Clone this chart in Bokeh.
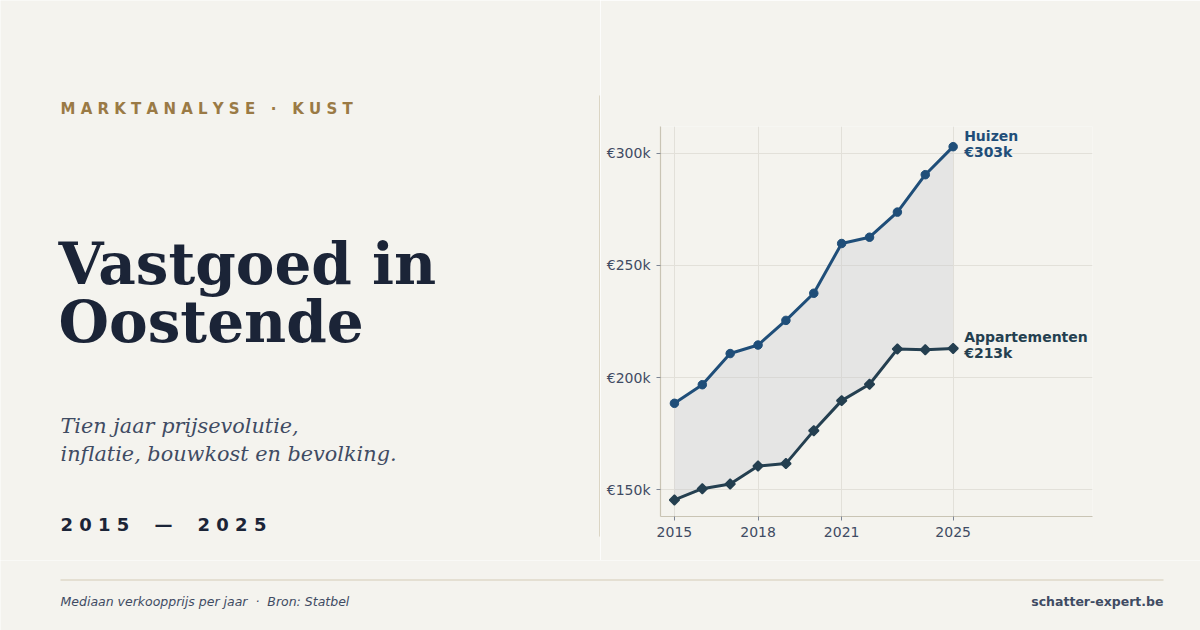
from bokeh.plotting import figure
from bokeh.layouts import column, row
from bokeh.models import Range1d, Label, FixedTicker, ColumnDataSource
from bokeh.core.properties import value
from bokeh.embed import file_html
from bokeh.resources import INLINE

# ---- data (median sale price, thousands of euro) ----
years = [2015, 2016, 2017, 2018, 2019, 2020, 2021, 2022, 2023, 2024, 2025]
huizen = [188.5, 196.8, 210.7, 214.5, 225.5, 237.6, 259.8, 262.6, 273.8, 290.5, 303.0]
appartementen = [145.4, 150.4, 152.5, 160.5, 161.6, 176.3, 189.7, 197.0, 212.7, 212.4, 213.0]
x_ticks = [2015, 2018, 2021, 2025]
y_ticks = [150, 200, 250, 300]
y_tick_labels = ["€150k", "€200k", "€250k", "€300k"]
series_names = ["Huizen", "Appartementen"]

BG = "#f4f3ee"
NAVY = "#1b2437"
SLATE = "#3f4b63"
GOLD = "#9a7a45"
BLUE = "#1f4e79"
TEAL = "#243f50"
RULE = "#d3cbb6"
NB = "\u00a0"


def blank(width, height, y_top, y_bottom):
    f = figure(width=width, height=height, output_backend="svg", toolbar_location=None,
               x_range=Range1d(0, width), y_range=Range1d(y_bottom, y_top),
               min_border=0, outline_line_color=None)
    f.axis.visible = False
    f.grid.visible = False
    f.background_fill_color = BG
    f.border_fill_color = BG
    f.frame_align = False
    return f


def put(fig, x, baseline, text, font, style, size, color, align="left"):
    # labels are positioned on their vertical centre; shift so the baseline lands where wanted
    fig.add_layout(Label(x=x, y=baseline - 0.35 * size, text=text, text_font=font,
                         text_font_style=style, text_font_size=f"{size}px", text_color=color,
                         text_baseline="alphabetic", text_align=align))


# ---- left panel: titles ----
left = blank(600, 560, 0, 560)
put(left, 60, 114, "M A R K T A N A L Y S E" + NB * 3 + "·" + NB * 3 + "K U S T",
    "DejaVu Sans", "bold", 15, GOLD)
put(left, 58, 284, "Vastgoed in", "DejaVu Serif", "bold", 58, NAVY)
put(left, 58, 342, "Oostende", "DejaVu Serif", "bold", 58, NAVY)
put(left, 60, 433, "Tien jaar prijsevolutie,", "DejaVu Serif", "italic", 20.8, SLATE)
put(left, 60, 461, "inflatie, bouwkost en bevolking.", "DejaVu Serif", "italic", 20.8, SLATE)
put(left, 60, 530, "2 0 1 5" + NB * 4 + "—" + NB * 4 + "2 0 2 5", "DejaVu Sans", "bold", 18, NAVY)
left.line(x=[599.5, 599.5], y=[95, 536], line_color=RULE, line_width=1.5)

# ---- right panel: price chart ----
chart = figure(width=600, height=560, output_backend="svg", toolbar_location=None,
               x_range=Range1d(2014.5, 2030), y_range=Range1d(138, 312),
               min_border_left=60, min_border_right=108, min_border_top=126, min_border_bottom=44,
               outline_line_color=None)
chart.frame_align = False
chart.background_fill_color = BG
chart.border_fill_color = BG

chart.xaxis.ticker = FixedTicker(ticks=x_ticks)
chart.yaxis.ticker = FixedTicker(ticks=y_ticks)
chart.yaxis.major_label_overrides = dict(zip(y_ticks, y_tick_labels))
chart.xaxis.major_label_overrides = {t: str(t) for t in x_ticks}
for ax in (chart.xaxis, chart.yaxis):
    ax.axis_line_color = "#c9c4b4"
    ax.axis_line_width = 1.2
    ax.major_tick_line_color = "#7d8594"
    ax.major_tick_in = 0
    ax.major_tick_out = 4
    ax.minor_tick_line_color = None
    ax.major_label_text_font = "DejaVu Sans"
    ax.major_label_text_font_size = "14px"
    ax.major_label_text_color = SLATE
    ax.major_label_standoff = 6
chart.grid.grid_line_color = "#e2e0d9"
chart.grid.grid_line_width = 1

src = ColumnDataSource(dict(year=years, huizen=huizen, app=appartementen))
chart.varea(x="year", y1="app", y2="huizen", source=src, fill_color="#c4c8cd", fill_alpha=0.3)
chart.line(x="year", y="huizen", source=src, line_color=BLUE, line_width=3)
chart.scatter(x="year", y="huizen", source=src, marker="circle", size=8.5,
              fill_color=BLUE, line_color=BLUE)
chart.line(x="year", y="app", source=src, line_color=TEAL, line_width=3)
chart.scatter(x="year", y="app", source=src, marker="square", angle=0.785398, size=7,
              fill_color=TEAL, line_color=TEAL, line_width=1.5)

# end-of-line labels
end_src = ColumnDataSource(dict(
    x=[years[-1], years[-1]],
    y=[huizen[-1], appartementen[-1]],
    txt=[f"{series_names[0]}\n€{huizen[-1]:.0f}k", f"{series_names[1]}\n€{appartementen[-1]:.0f}k"],
    col=[BLUE, TEAL],
))
chart.text(x="x", y="y", text="txt", source=end_src, x_offset=11, y_offset=-3,
           text_font=value("DejaVu Sans"), text_font_style="bold", text_font_size="14px",
           text_color="col", text_baseline="middle", text_align="left", text_line_height=1.0)

# ---- footer ----
footer = blank(1200, 70, 560, 630)
footer.line(x=[60, 1163], y=[579.5, 579.5], line_color=RULE, line_width=1.2)
put(footer, 60, 605, "Mediaan verkoopprijs per jaar" + NB * 2 + "·" + NB * 2 + "Bron: Statbel",
    "DejaVu Sans", "italic", 12.5, SLATE)
put(footer, 1163, 605, "schatter-expert.be", "DejaVu Sans", "bold", 12.5, SLATE, align="right")

layout = column(row(left, chart, spacing=0), footer, spacing=0)
html = file_html(layout, INLINE)
html = html.replace("<body>", f'<body style="margin:0;background:{BG}">', 1)
open("out.html", "w").write(html)
